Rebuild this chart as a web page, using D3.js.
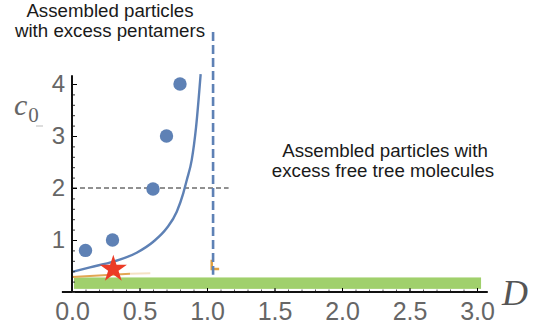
<!DOCTYPE html>
<html>
<head>
<meta charset="utf-8">
<script src="https://cdn.jsdelivr.net/npm/d3@7"></script>
<style>
  body { margin: 0; background: #fff; }
  svg { display: block; }
</style>
</head>
<body>
<div id="vis"></div>
<script>
// tick values
var xTickVals = [0, 0.5, 1, 1.5, 2, 2.5, 3];
var yTickVals = [1, 2, 3, 4];

// simulation points (D, c0)
var pointD = [0.1, 0.3, 0.6, 0.7, 0.8];
var pointC = [0.8, 1.0, 1.98, 3.0, 4.0];

// boundary curve
var curveD = [0, 0.133, 0.306, 0.479, 0.602, 0.701, 0.776, 0.824, 0.85, 0.887, 0.919, 0.953];
var curveC = [0.385, 0.475, 0.583, 0.756, 0.967, 1.225, 1.544, 1.898, 2.15, 2.54, 3.17, 4.19];

// orange fragments
var orangeD = [0, 0.43];
var orangeC = [0.29, 0.35];
var orangeFaintD = [0.43, 0.58];
var orangeFaintC = [0.35, 0.36];
var orangeMarkD = [1.035, 1.035, 1.09];
var orangeMarkC = [0.62, 0.44, 0.44];

// green band
var bandD = [0.015, 3.03];
var bandC = [0.06, 0.28];

// star marker
var starD = 0.306, starC = 0.44;

// reference lines
var vLineD = 1.045, vLineC = [0.33, 5.0];
var hLineC = 2, hLineD = [0, 1.16];

var width = 538, height = 333;
var blue = "#5e81b5";

var svg = d3.select("#vis").append("svg")
    .attr("width", width)
    .attr("height", height);

var x = d3.scaleLinear().domain([0, 3]).range([72, 477]);
var y = d3.scaleLinear().domain([0, 4]).range([292, 84]);

var zip = function (a, b) { return a.map(function (v, i) { return [v, b[i]]; }); };
var line = d3.line().x(function (d) { return x(d[0]); }).y(function (d) { return y(d[1]); });

// green band
svg.append("rect")
    .attr("x", x(bandD[0]))
    .attr("y", y(bandC[1]))
    .attr("width", x(bandD[1]) - x(bandD[0]))
    .attr("height", y(bandC[0]) - y(bandC[1]))
    .style("fill", "#a0d06c");

// orange bits
svg.append("path").attr("d", line(zip(orangeD, orangeC)))
    .style("fill", "none").style("stroke", "#e2a653").style("stroke-width", 2);
svg.append("path").attr("d", line(zip(orangeFaintD, orangeFaintC)))
    .style("fill", "none").style("stroke", "#f5e2c4").style("stroke-width", 2);
svg.append("path").attr("d", line(zip(orangeMarkD, orangeMarkC)))
    .style("fill", "none").style("stroke", "#e0a040").style("stroke-width", 2.5);

// dashed guides
svg.append("line")
    .attr("x1", x(hLineD[0])).attr("x2", x(hLineD[1]))
    .attr("y1", y(hLineC)).attr("y2", y(hLineC))
    .style("stroke", "#222").style("stroke-width", 1)
    .style("stroke-dasharray", "5,3");

svg.append("line")
    .attr("x1", x(vLineD)).attr("x2", x(vLineD))
    .attr("y1", y(vLineC[1])).attr("y2", y(vLineC[0]))
    .style("stroke", blue).style("stroke-width", 2.6)
    .style("stroke-dasharray", "9,4");

// curve
svg.append("path")
    .attr("d", line.curve(d3.curveMonotoneX)(zip(curveD, curveC)))
    .style("fill", "none").style("stroke", blue).style("stroke-width", 2.4);

// points
svg.selectAll(".dot")
    .data(zip(pointD, pointC))
    .enter().append("circle")
    .attr("class", "dot")
    .attr("r", 6.7)
    .attr("cx", function (d) { return x(d[0]); })
    .attr("cy", function (d) { return y(d[1]); })
    .style("fill", blue);

// star
svg.append("path")
    .attr("d", d3.symbol(d3.symbolStar).size(230)())
    .attr("transform", "translate(" + x(starD) + "," + y(starC) + ")")
    .style("fill", "#ec3b26");

// x axis
var xMinor = d3.range(0, 31).map(function (i) { return i / 10; });
svg.append("g")
    .attr("transform", "translate(0," + y(0) + ")")
    .call(d3.axisBottom(x).tickValues(xMinor).tickSize(-2.5).tickFormat(""))
    .call(function (g) { g.select(".domain").remove(); g.selectAll("line").style("stroke", "#555"); });
var xAxis = svg.append("g")
    .attr("transform", "translate(0," + y(0) + ")")
    .call(d3.axisBottom(x).tickValues(xTickVals).tickSize(-4).tickPadding(10)
        .tickFormat(d3.format(".1f")));
xAxis.select(".domain").remove();
xAxis.selectAll("text")
    .style("font-family", "'Liberation Sans', Arial, sans-serif")
    .style("font-size", "25px")
    .style("fill", "#666");
svg.append("line")
    .attr("x1", x(-0.075)).attr("x2", x(3.08))
    .attr("y1", y(0)).attr("y2", y(0))
    .style("stroke", "#111").style("stroke-width", 2);

// y axis
var yMinor = d3.range(0, 21).map(function (i) { return i / 5; });
svg.append("g")
    .attr("transform", "translate(" + x(0) + ",0)")
    .call(d3.axisLeft(y).tickValues(yMinor).tickSize(-3).tickFormat(""))
    .call(function (g) { g.select(".domain").remove(); g.selectAll("line").style("stroke", "#333"); });
var yAxis = svg.append("g")
    .attr("transform", "translate(" + x(0) + ",0)")
    .call(d3.axisLeft(y).tickValues(yTickVals).tickSize(-5).tickPadding(7)
        .tickFormat(d3.format("d")));
yAxis.select(".domain").remove();
yAxis.selectAll("text")
    .style("font-family", "'Liberation Sans', Arial, sans-serif")
    .style("font-size", "24px")
    .style("fill", "#666");
svg.append("line")
    .attr("x1", x(0)).attr("x2", x(0))
    .attr("y1", y(0)).attr("y2", y(4.17))
    .style("stroke", "#111").style("stroke-width", 2);

// axis titles
var c0 = svg.append("text")
    .attr("x", 14).attr("y", 115)
    .style("font-family", "'Liberation Serif', 'Times New Roman', serif")
    .style("font-style", "italic")
    .style("font-size", "30px")
    .style("fill", "#666");
c0.append("tspan").text("c");
c0.append("tspan").attr("dy", 7).attr("dx", 1)
    .style("font-style", "normal").style("font-size", "21px").text("0");
svg.append("line")
    .attr("x1", 36).attr("x2", 43).attr("y1", 126).attr("y2", 126)
    .style("stroke", "#bbb").style("stroke-width", 1);

svg.append("text")
    .attr("x", 502).attr("y", 305)
    .style("font-family", "'Liberation Serif', 'Times New Roman', serif")
    .style("font-style", "italic")
    .style("font-size", "36px")
    .style("fill", "#555")
    .text("D");

// region labels
var labels = [
    { x: 110, y: 17, t: "Assembled particles" },
    { x: 110, y: 37, t: "with excess pentamers" },
    { x: 385, y: 157, t: "Assembled particles with" },
    { x: 383, y: 177, t: "excess free tree molecules" }
];
svg.selectAll(".lbl")
    .data(labels)
    .enter().append("text")
    .attr("class", "lbl")
    .attr("x", function (d) { return d.x; })
    .attr("y", function (d) { return d.y; })
    .style("text-anchor", "middle")
    .style("font-family", "'Liberation Sans', Arial, sans-serif")
    .style("font-size", "18.7px")
    .style("fill", "#1a1a1a")
    .text(function (d) { return d.t; });
</script>
</body>
</html>
